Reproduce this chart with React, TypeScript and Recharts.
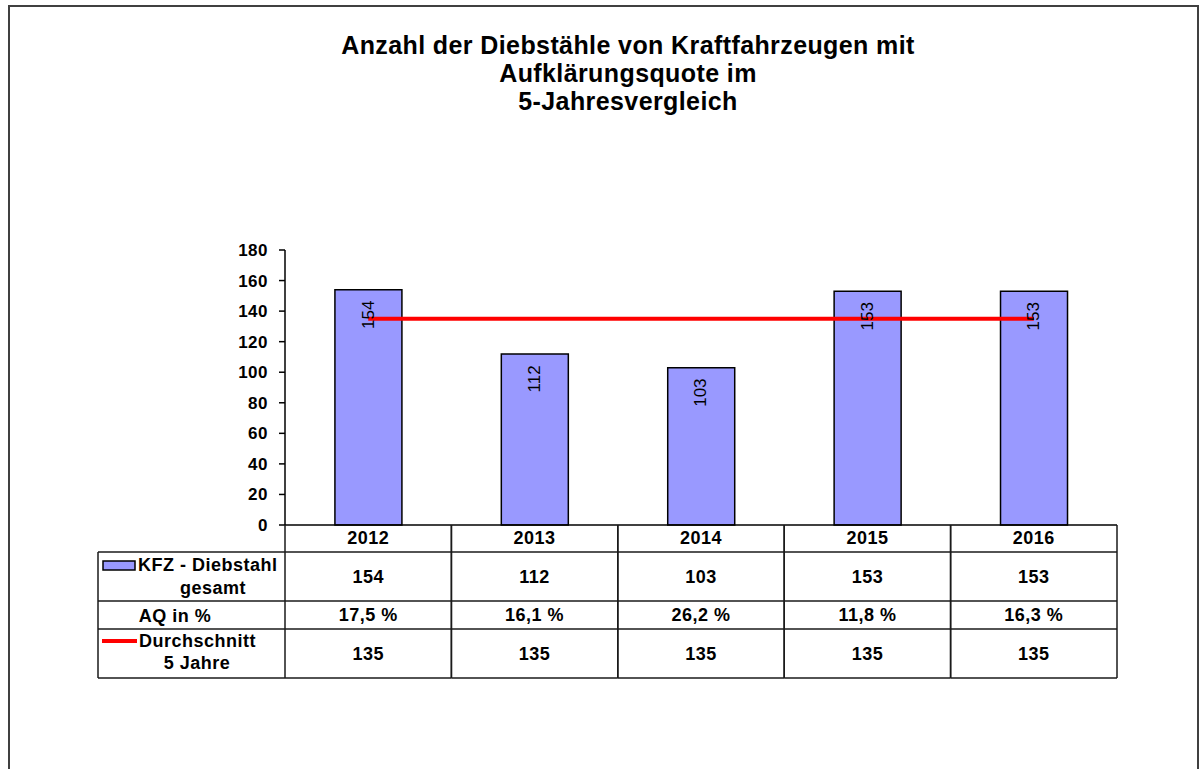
import { Bar, ComposedChart, LabelList, Line, XAxis, YAxis } from 'recharts';

// KFZ-Diebstähle 2012–2016 mit Datentabelle unter der x-Achse (Excel-Stil).

const YEARS = ['2012', '2013', '2014', '2015', '2016'];
const KFZ_TOTAL = [154, 112, 103, 153, 153];
const AQ_LABELS = ['17,5 %', '16,1 %', '26,2 %', '11,8 %', '16,3 %'];
const AVG_5Y = [135, 135, 135, 135, 135];
const Y_TICKS = [0, 20, 40, 60, 80, 100, 120, 140, 160, 180];
const TITLE_LINES = ['Anzahl der Diebstähle von Kraftfahrzeugen mit', 'Aufklärungsquote im', '5-Jahresvergleich'];

const data = YEARS.map((year, i) => ({ year, kfz: KFZ_TOTAL[i], aq: AQ_LABELS[i], avg: AVG_5Y[i] }));

const W = 1201;
const H = 769;
const MARGIN = { top: 250, right: 84, bottom: 91, left: 225 };
const Y_AXIS_W = 60;
const TABLE_H = 153;
const ROWS = [27, 76, 104, 153]; // untere Kanten der Tabellenzeilen
const LEGEND_W = 187;
const COL_W = (W - MARGIN.left - MARGIN.right - Y_AXIS_W) / YEARS.length;

const BAR_FILL = '#9999FF';
const LINE_RED = '#FF0000';
const INK = '#000';
const RULE = '#1a1a1a';
const FONT = '"Liberation Sans", Arial, sans-serif';

const txt = {
  fontFamily: FONT,
  fontSize: 18,
  fontWeight: 700,
  fill: INK,
  letterSpacing: 0.5,
  dominantBaseline: 'central' as const,
};

function LegendColumn({ right, y }: { right: number; y: number }) {
  const L = right - LEGEND_W;
  return (
    <g>
      <line x1={L} x2={L} y1={y + ROWS[0]} y2={y + ROWS[3]} stroke={RULE} strokeWidth={1.5} />
      {ROWS.map((r) => (
        <line key={r} x1={L} x2={right} y1={y + r} y2={y + r} stroke={RULE} strokeWidth={1.5} />
      ))}
      <rect x={L + 5} y={y + 36} width={32} height={9} fill={BAR_FILL} stroke={INK} strokeWidth={1.5} />
      <text {...txt} x={L + 40} y={y + 40}>KFZ - Diebstahl</text>
      <text {...txt} x={L + 115} y={y + 63} textAnchor="middle">gesamt</text>
      <text {...txt} x={L + 77} y={y + 91} textAnchor="middle">AQ in %</text>
      <line x1={L + 4} x2={L + 39} y1={y + 116} y2={y + 116} stroke={LINE_RED} strokeWidth={4} />
      <text {...txt} x={L + 41} y={y + 116}>Durchschnitt</text>
      <text {...txt} x={L + 99} y={y + 138} textAnchor="middle">5 Jahre</text>
    </g>
  );
}

function TableTick(props: any) {
  const { x, y, index, payload } = props;
  const left = x - COL_W / 2;
  const right = x + COL_W / 2;
  const row = data[index];
  return (
    <g>
      {index === 0 && <LegendColumn right={left} y={y} />}
      <line x1={left} x2={left} y1={y} y2={y + TABLE_H} stroke={RULE} strokeWidth={1.5} />
      <line x1={right} x2={right} y1={y} y2={y + TABLE_H} stroke={RULE} strokeWidth={1.5} />
      {ROWS.map((r) => (
        <line key={r} x1={left} x2={right} y1={y + r} y2={y + r} stroke={RULE} strokeWidth={1.5} />
      ))}
      <text {...txt} x={x} y={y + 13} textAnchor="middle">{payload.value}</text>
      <text {...txt} x={x} y={y + 52} textAnchor="middle">{row.kfz}</text>
      <text {...txt} x={x} y={y + 90} textAnchor="middle">{row.aq}</text>
      <text {...txt} x={x} y={y + 129} textAnchor="middle">{row.avg}</text>
    </g>
  );
}

// Wert senkrecht im oberen Teil der Säule; x/y kommen vom unsichtbaren kfz-Linienpunkt
function BarValue(props: any) {
  const { x, y, value } = props;
  const cx = x;
  const cy = y + 25;
  return (
    <text
      x={cx}
      y={cy}
      transform={`rotate(-90, ${cx}, ${cy})`}
      textAnchor="middle"
      dominantBaseline="central"
      fontFamily={FONT}
      fontSize={17}
      fill={INK}
    >
      {value}
    </text>
  );
}

export default function App() {
  return (
    <div style={{ position: 'absolute', left: 0, top: 0, width: W, height: H, background: '#fff', fontFamily: FONT, overflow: 'hidden' }}>
      <div
        style={{
          position: 'absolute',
          left: 8,
          top: 5,
          width: 1187,
          height: 800,
          borderLeft: '2px solid #404040',
          borderTop: '2px solid #404040',
          borderRight: '2px solid #404040',
        }}
      />
      <div
        style={{
          position: 'absolute',
          left: 0,
          top: 31,
          width: 1256,
          textAlign: 'center',
          fontSize: 25,
          fontWeight: 700,
          lineHeight: '28px',
          letterSpacing: 0.4,
          color: INK,
        }}
      >
        {TITLE_LINES.map((l) => (
          <div key={l}>{l}</div>
        ))}
      </div>
      <div style={{ position: 'absolute', left: 0, top: 0 }}>
        <ComposedChart width={W} height={H} data={data} margin={MARGIN} barCategoryGap="30%">
          <XAxis
            xAxisId="main"
            dataKey="year"
            height={TABLE_H}
            tickLine={false}
            tickSize={0}
            tickMargin={0}
            axisLine={{ stroke: INK, strokeWidth: 1.5 }}
            tick={<TableTick />}
            interval={0}
          />
          <XAxis xAxisId="top" dataKey="year" orientation="top" height={0} tick={false} tickLine={false} axisLine={{ stroke: INK, strokeWidth: 1.5 }} />
          <YAxis
            yAxisId="main"
            domain={[0, 180]}
            ticks={Y_TICKS}
            width={Y_AXIS_W}
            tickSize={6}
            tickMargin={11}
            interval={0}
            tickLine={{ stroke: INK, strokeWidth: 1.5 }}
            axisLine={{ stroke: INK, strokeWidth: 1.5 }}
            tick={{ fill: INK, fontSize: 17, fontWeight: 700, letterSpacing: 0.5 }}
          />
          <YAxis yAxisId="right" orientation="right" domain={[0, 180]} width={0} tick={false} tickLine={false} axisLine={{ stroke: INK, strokeWidth: 1.5 }} />
          <Bar xAxisId="main" yAxisId="main" dataKey="kfz" fill={BAR_FILL} stroke={INK} strokeWidth={1.5} isAnimationActive={false} />
          <Line
            xAxisId="main"
            yAxisId="main"
            dataKey="avg"
            type="linear"
            stroke={LINE_RED}
            strokeWidth={4}
            dot={false}
            activeDot={false}
            isAnimationActive={false}
          />
          {/* unsichtbare Linie nur für die Säulenbeschriftung, damit sie über der roten Linie liegt */}
          <Line
            xAxisId="main"
            yAxisId="main"
            dataKey="kfz"
            stroke="none"
            dot={false}
            activeDot={false}
            legendType="none"
            isAnimationActive={false}
          >
            <LabelList dataKey="kfz" content={<BarValue />} />
          </Line>
        </ComposedChart>
      </div>
    </div>
  );
}
